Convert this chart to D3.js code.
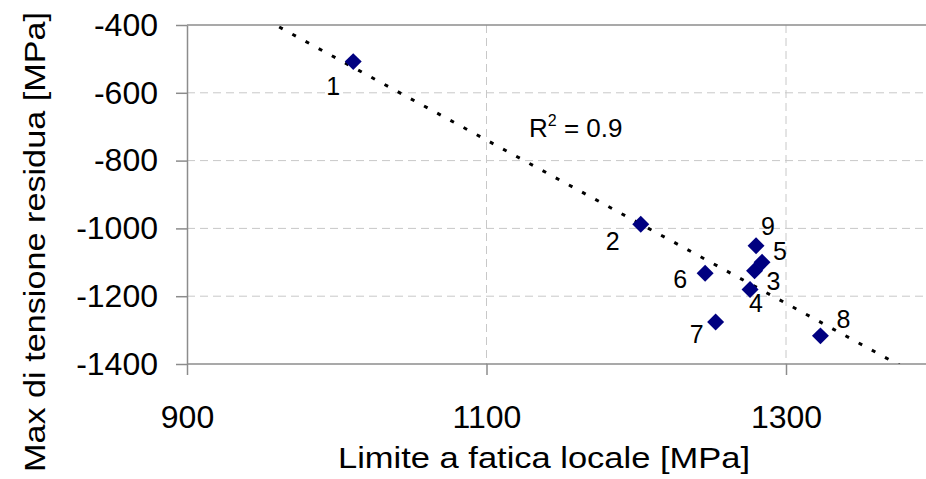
<!DOCTYPE html>
<html>
<head>
<meta charset="utf-8">
<script src="https://cdn.jsdelivr.net/npm/d3@7"></script>
<style>
  body { margin: 0; background: #fff; }
  svg { display: block; font-family: "Liberation Sans", Arial, sans-serif; }
  .grid line { stroke: #c8c8c8; stroke-dasharray: 8,5; }
  .axis path, .axis line { stroke: #8c8c8c; stroke-width: 1.5; }
  .axis text { font-size: 32px; fill: #000; }
</style>
</head>
<body>
<div id="container"></div>
<script>
// data
var pointIds  = ["1", "2", "3", "4", "5", "6", "7", "8", "9"];
var fatigue   = [1011, 1203, 1279, 1276, 1284, 1246, 1253, 1323, 1280];   // Limite a fatica locale [MPa]
var residual  = [-508, -988, -1125, -1180, -1100, -1132, -1276, -1317, -1051]; // Max di tensione residua [MPa]
var xTicks = [900, 1100, 1300];
var yTicks = [-400, -600, -800, -1000, -1200, -1400];

// label placement around each marker (px)
var labelDx = [-20, -28, 19, 6, 18, -25, -19, 23, 12];
var labelDy = [33, 26, 19, 23, -2, 15, 21, -8, -11];

var W = 926, H = 479;
var pLeft = 187, pTop = 25, pBottom = 364;

var svg = d3.select("#container").append("svg").attr("width", W).attr("height", H);

var x = d3.scaleLinear().domain([900, 1500]).range([pLeft, pLeft + 600 * 1.4975]);
var y = d3.scaleLinear().domain([-1400, -400]).range([pBottom, pTop]);

svg.append("clipPath").attr("id", "plot")
  .append("rect").attr("x", pLeft).attr("y", pTop).attr("width", W - pLeft).attr("height", pBottom - pTop);

// grid
var grid = svg.append("g").attr("class", "grid");
grid.selectAll("line.h").data(yTicks.filter(function(d){ return d > -1400 && d < -400; }))
  .enter().append("line").attr("class", "h")
  .attr("x1", pLeft).attr("x2", W).attr("y1", y).attr("y2", y);
grid.selectAll("line.v").data(xTicks.filter(function(d){ return d > 900; }))
  .enter().append("line").attr("class", "v")
  .attr("x1", x).attr("x2", x).attr("y1", pTop).attr("y2", pBottom);

// axes
var yAxis = svg.append("g").attr("class", "axis")
  .attr("transform", "translate(" + pLeft + ",0)")
  .call(d3.axisLeft(y).tickValues(yTicks).tickSizeInner(11).tickSizeOuter(0).tickPadding(18)
        .tickFormat(function(d){ return d < 0 ? "-" + Math.abs(d) : d; }));
var xAxis = svg.append("g").attr("class", "axis")
  .attr("transform", "translate(0," + pBottom + ")")
  .call(d3.axisBottom(x).tickValues(xTicks).tickSizeInner(11).tickSizeOuter(0).tickPadding(30)
        .tickFormat(d3.format("d")));
xAxis.select(".domain").attr("d", "M" + pLeft + ",0H" + W);

// top border
svg.append("line").attr("x1", pLeft).attr("x2", W).attr("y1", pTop).attr("y2", pTop)
  .attr("stroke", "#8c8c8c").attr("stroke-width", 1.5);

// linear trendline (least squares)
var n = fatigue.length;
var mx = d3.mean(fatigue), my = d3.mean(residual);
var sxy = 0, sxx = 0, syy = 0;
for (var i = 0; i < n; i++) {
  sxy += (fatigue[i] - mx) * (residual[i] - my);
  sxx += (fatigue[i] - mx) * (fatigue[i] - mx);
  syy += (residual[i] - my) * (residual[i] - my);
}
var slope = sxy / sxx, icpt = my - slope * mx;
var r2 = (sxy * sxy) / (sxx * syy);

svg.append("line")
  .attr("clip-path", "url(#plot)")
  .attr("x1", x(900)).attr("y1", y(icpt + slope * 900))
  .attr("x2", x(1500)).attr("y2", y(icpt + slope * 1500))
  .attr("stroke", "#000").attr("stroke-width", 3).attr("stroke-dasharray", "4,11");

// markers
svg.selectAll("path.pt").data(pointIds).enter().append("path")
  .attr("class", "pt")
  .attr("d", d3.symbol(d3.symbolSquare, 144))
  .attr("transform", function(d, i){ return "translate(" + x(fatigue[i]) + "," + y(residual[i]) + ") rotate(45)"; })
  .attr("fill", "#000080");

// point labels
svg.selectAll("text.lbl").data(pointIds).enter().append("text")
  .attr("class", "lbl")
  .attr("x", function(d, i){ return x(fatigue[i]) + labelDx[i]; })
  .attr("y", function(d, i){ return y(residual[i]) + labelDy[i]; })
  .attr("text-anchor", "middle").attr("font-size", 25)
  .text(function(d){ return d; });

// R² label
var rt = svg.append("text").attr("x", 529).attr("y", 137).attr("font-size", 26);
rt.append("tspan").text("R");
rt.append("tspan").attr("font-size", 16).attr("dy", -11).text("2");
rt.append("tspan").attr("dy", 11).text(" = " + d3.format(".1f")(r2));

// axis titles
svg.append("text").attr("x", 544).attr("y", 468).attr("text-anchor", "middle")
  .attr("font-size", 30).attr("textLength", 412).attr("lengthAdjust", "spacingAndGlyphs")
  .text("Limite a fatica locale [MPa]");
svg.append("text").attr("transform", "translate(45,242) rotate(-90)").attr("text-anchor", "middle")
  .attr("font-size", 30).attr("textLength", 460).attr("lengthAdjust", "spacingAndGlyphs")
  .text("Max di tensione residua [MPa]");
</script>
</body>
</html>
